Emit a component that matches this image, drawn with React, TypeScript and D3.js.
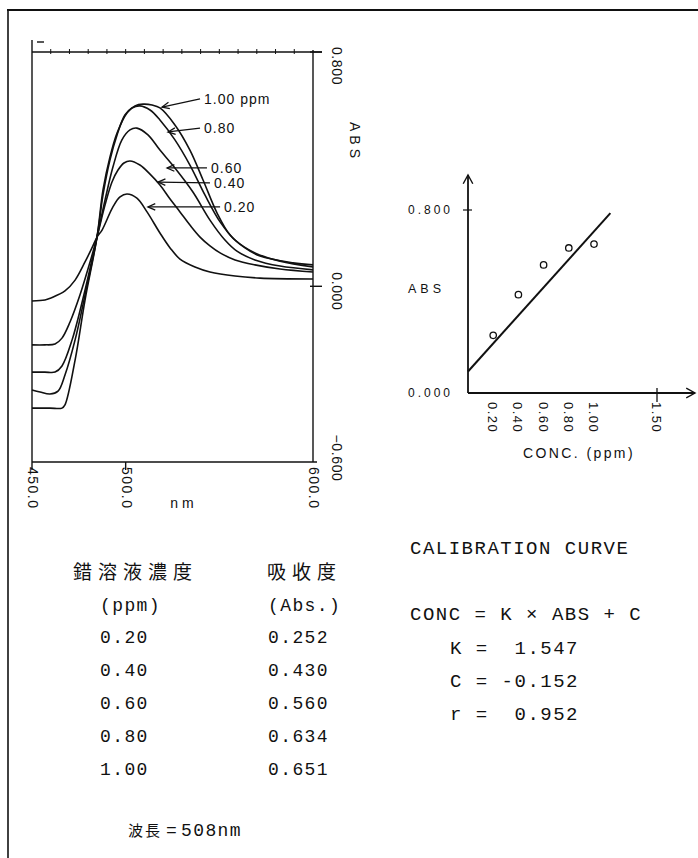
import React from "react";
import * as d3 from "d3";

const W = 698;
const H = 858;

// Difference spectra, [wavelength (nm), absorbance]
const spec020: [number, number][] = [[450,-0.050],[456.9,-0.047],[460.1,-0.040],[467.6,-0.016],[473.0,0.021],[478.3,0.083],[482.0,0.131],[484.7,0.168],[487.4,0.192],[493.2,0.271],[497.0,0.305],[500.7,0.315],[506.0,0.301],[511.4,0.254],[518.3,0.182],[523.7,0.131],[529.0,0.093],[537.0,0.066],[545.0,0.049],[558.4,0.035],[571.7,0.028],[600,0.025]];
const spec040: [number, number][] = [[450,-0.200],[456.9,-0.200],[462.3,-0.197],[466.0,-0.177],[470.3,-0.122],[475.6,-0.030],[481.0,0.083],[484.7,0.168],[489.0,0.278],[492.7,0.356],[495.9,0.397],[499.1,0.421],[502.3,0.428],[507.6,0.414],[513.0,0.383],[518.3,0.346],[523.7,0.298],[529.0,0.254],[534.3,0.209],[539.7,0.168],[545.0,0.138],[550.4,0.114],[558.4,0.090],[569.0,0.073],[582.4,0.059],[600,0.049]];
const spec060: [number, number][] = [[450,-0.293],[456.9,-0.293],[462.3,-0.293],[466.0,-0.272],[471.4,-0.183],[478.3,-0.013],[484.7,0.168],[489.0,0.295],[493.2,0.407],[498.0,0.500],[502.3,0.534],[506.0,0.540],[511.9,0.517],[518.3,0.465],[526.3,0.404],[535.9,0.322],[545.0,0.226],[553.0,0.158],[559.4,0.120],[569.0,0.090],[582.4,0.069],[600,0.056]];
const spec080: [number, number][] = [[450,-0.354],[454.3,-0.361],[459.6,-0.368],[463.9,-0.358],[467.6,-0.303],[473.0,-0.183],[478.3,-0.030],[484.7,0.168],[487.9,0.312],[491.6,0.431],[495.4,0.517],[499.6,0.585],[503.4,0.609],[507.6,0.616],[513.0,0.602],[518.3,0.568],[526.3,0.500],[534.3,0.414],[542.3,0.312],[550.4,0.220],[558.4,0.158],[569.0,0.114],[582.4,0.086],[600,0.066]];
const spec100: [number, number][] = [[450,-0.416],[459.6,-0.416],[466.0,-0.416],[467.6,-0.405],[473.0,-0.252],[478.3,-0.047],[484.7,0.168],[487.9,0.329],[491.6,0.441],[495.4,0.523],[500.7,0.592],[505.0,0.616],[509.3,0.622],[514.1,0.619],[518.3,0.609],[526.3,0.551],[534.3,0.465],[541.3,0.363],[548.8,0.250],[555.7,0.175],[563.7,0.131],[571.7,0.103],[589.3,0.080],[600,0.073]];
const spectra = [spec100, spec080, spec060, spec040, spec020];

// Spectrum annotations
const labelText = ["1.00 ppm", "0.80", "0.60", "0.40", "0.20"];
const arrowTipWl = [519.4, 522.6, 522.1, 517.3, 511.9];
const arrowTipAbs = [0.612, 0.527, 0.404, 0.356, 0.271];
const arrowTailWl = [539.7, 539.7, 543.4, 545.0, 550.4];
const arrowTailAbs = [0.640, 0.540, 0.404, 0.353, 0.271];

// Spectrum axes
const wlTicks = [450, 500, 600];
const wlTickLabels = ["450.0", "500.0", "600.0"];
const absTicks = [0.8, 0.0, -0.6];
const absTickLabels = ["0.800", "0.000", "\u22120.600"];
const wlMinorTicks = [460, 470, 480, 490, 500, 510, 520, 530, 540, 550, 560, 570, 580, 590];

// Calibration data
const conc = [0.20, 0.40, 0.60, 0.80, 1.00];
const concLabels = ["0.20", "0.40", "0.60", "0.80", "1.00"];
const absorb = [0.252, 0.430, 0.560, 0.634, 0.651];
const absorbLabels = ["0.252", "0.430", "0.560", "0.634", "0.651"];
const calTickConc = [0.2, 0.4, 0.6, 0.8, 1.0, 1.5];
const calTickConcLabels = ["0.20", "0.40", "0.60", "0.80", "1.00", "1.50"];
const calTickAbs = [0.8, 0.0];
const calTickAbsLabels = ["0.800", "0.000"];
const fitConc = [0, 1.13];
const fitAbs = [0.094, 0.786];
const fitLines = ["CONC = K \u00d7 ABS + C", "K =  1.547", "C = -0.152", "r =  0.952"];

const SANS = "'Liberation Sans', Arial, sans-serif";
const MONO = "'Liberation Mono', 'DejaVu Sans Mono', monospace";
const CJK = "'Noto Sans CJK JP', sans-serif";
const INK = "#111";

function arrowHead(tx: number, ty: number, fx: number, fy: number, len = 8, ang = 0.42) {
  const a = Math.atan2(fy - ty, fx - tx);
  return `M${tx + len * Math.cos(a + ang)},${ty + len * Math.sin(a + ang)}L${tx},${ty}L${tx + len * Math.cos(a - ang)},${ty + len * Math.sin(a - ang)}`;
}

export default function App() {
  const x = d3.scaleLinear().domain([450, 600]).range([32, 313]);
  const y = d3.scaleLinear().domain([-0.6, 0.8]).range([462, 52]);
  const line = d3
    .line<[number, number]>()
    .x((d) => x(d[0]))
    .y((d) => y(d[1]))
    .curve(d3.curveCatmullRom.alpha(0.5));

  const cx = d3.scaleLinear().domain([0, 1.5]).range([468, 657]);
  const cy = d3.scaleLinear().domain([0, 0.8]).range([393, 210]);

  const [xl, xr] = x.range();
  const [yb, yt] = y.range();
  const cx0 = cx(0);
  const cy0 = cy(0);

  return (
    <svg
      width={W}
      height={H}
      viewBox={`0 0 ${W} ${H}`}
      style={{ position: "absolute", left: 0, top: 0, background: "#fff" }}
    >
      <rect x={0} y={0} width={W} height={H} fill="#fff" />
      {/* outer frame */}
      <line x1={7} y1={10} x2={W} y2={10} stroke={INK} strokeWidth={2} />
      <line x1={8} y1={10} x2={8} y2={H} stroke={INK} strokeWidth={1.6} />

      {/* ---------- spectrum chart ---------- */}
      <g stroke={INK} fill="none" strokeWidth={1.4}>
        <line x1={xl} y1={40} x2={xl} y2={yb} />
        <line x1={xr} y1={yt - 2} x2={xr} y2={yb} />
        <line x1={xl} y1={yt} x2={xr + 9} y2={yt} />
        <line x1={xl} y1={yb} x2={xr + 4} y2={yb} />
        <line x1={xl + 5} y1={42} x2={xl + 12} y2={42} />
        {wlMinorTicks.map((t) => (
          <line key={t} x1={x(t)} y1={yt - 3} x2={x(t)} y2={yt + 2} strokeWidth={1} />
        ))}
        {wlTicks.slice(0, 2).map((t) => (
          <line key={t} x1={x(t)} y1={yb} x2={x(t)} y2={yb + 8} />
        ))}
        {absTicks.slice(0, 2).map((t) => (
          <line key={t} x1={xr - 3} y1={y(t)} x2={xr + 9} y2={y(t)} />
        ))}
        {spectra.map((s, i) => (
          <path key={i} d={line(s) || ""} strokeWidth={1.6} />
        ))}
        {labelText.map((_, i) => {
          const tx = x(arrowTipWl[i]);
          const ty = y(arrowTipAbs[i]);
          const fx = x(arrowTailWl[i]);
          const fy = y(arrowTailAbs[i]);
          return (
            <g key={i} strokeWidth={1.3}>
              <line x1={fx} y1={fy} x2={tx} y2={ty} />
              <path d={arrowHead(tx, ty, fx, fy)} />
            </g>
          );
        })}
      </g>
      <g fontFamily={SANS} fontSize={14} fill={INK}>
        {labelText.map((t, i) => (
          <text
            key={t}
            x={x(arrowTailWl[i]) + 4}
            y={y(arrowTailAbs[i]) + 5}
            letterSpacing={1}
          >
            {t}
          </text>
        ))}
        {absTickLabels.map((t, i) => (
          <text
            key={t}
            transform={`translate(${xr + 19},${y(absTicks[i]) + 14 - i * 9}) rotate(90)`}
            textAnchor="middle"
            letterSpacing={0.6}
          >
            {t}
          </text>
        ))}
        <text transform={`translate(350,122) rotate(90)`} letterSpacing={4}>
          ABS
        </text>
        {wlTickLabels.map((t, i) => (
          <text
            key={t}
            transform={`translate(${x(wlTicks[i]) - 4},${yb + 5}) rotate(90)`}
            letterSpacing={1.5}
          >
            {t}
          </text>
        ))}
        <text x={184} y={508} textAnchor="middle" letterSpacing={4}>
          nm
        </text>
      </g>

      {/* ---------- calibration chart ---------- */}
      <g stroke={INK} fill="none" strokeWidth={1.8}>
        <line x1={cx0} y1={cy0} x2={cx0} y2={175} />
        <path d={arrowHead(cx0, 175, cx0, cy0, 10, 0.5)} strokeWidth={1.4} />
        <line x1={cx0} y1={cy0} x2={695} y2={cy0} />
        <path d={arrowHead(695, cy0, cx0, cy0, 10, 0.5)} strokeWidth={1.4} />
        <line x1={cx0 - 5} y1={cy(0.8)} x2={cx0 + 4} y2={cy(0.8)} strokeWidth={1.2} />
        <line x1={cx(1.5)} y1={cy0 - 5} x2={cx(1.5)} y2={cy0 + 9} strokeWidth={1.3} />
        <line
          x1={cx(fitConc[0])}
          y1={cy(fitAbs[0])}
          x2={cx(fitConc[1])}
          y2={cy(fitAbs[1])}
          strokeWidth={2}
        />
        {conc.map((c, i) => (
          <circle key={c} cx={cx(c)} cy={cy(absorb[i])} r={3.2} strokeWidth={1.3} />
        ))}
      </g>
      <g fontFamily={SANS} fill={INK}>
        {calTickAbsLabels.map((t, i) => (
          <text
            key={t}
            x={453}
            y={cy(calTickAbs[i]) + 4}
            textAnchor="end"
            fontSize={12}
            letterSpacing={3}
          >
            {t}
          </text>
        ))}
        <text x={408} y={293} fontSize={12.5} letterSpacing={4}>
          ABS
        </text>
        {calTickConcLabels.map((t, i) => (
          <text
            key={t}
            transform={`translate(${cx(calTickConc[i]) - 5},${cy0 + 9}) rotate(90)`}
            fontSize={13}
            letterSpacing={1.5}
          >
            {t}
          </text>
        ))}
        <text x={523} y={458} fontSize={14} letterSpacing={2.4}>
          CONC. (ppm)
        </text>
      </g>

      {/* ---------- data table ---------- */}
      <g fill={INK}>
        <text x={73} y={579} fontFamily={CJK} fontSize={19} letterSpacing={6}>
          錯溶液濃度
        </text>
        <text x={267} y={579} fontFamily={CJK} fontSize={19} letterSpacing={6}>
          吸收度
        </text>
        <g fontFamily={MONO} fontSize={18} letterSpacing={1.4}>
          <text x={100} y={611}>(ppm)</text>
          <text x={268} y={611}>(Abs.)</text>
          {concLabels.map((t, i) => (
            <text key={t} x={100} y={643 + i * 33}>
              {t}
            </text>
          ))}
          {absorbLabels.map((t, i) => (
            <text key={t} x={268} y={643 + i * 33}>
              {t}
            </text>
          ))}
        </g>
        <text x={128} y={836} fontFamily={CJK} fontSize={15} letterSpacing={2}>
          波長
        </text>
        <text x={166} y={836} fontFamily={MONO} fontSize={18}>
          =
        </text>
        <text x={181} y={836} fontFamily={MONO} fontSize={18} letterSpacing={1.4}>
          508nm
        </text>
      </g>

      {/* ---------- calibration text ---------- */}
      <g fill={INK} fontFamily={MONO} fontSize={19} letterSpacing={1.5}>
        <text x={410} y={554}>CALIBRATION CURVE</text>
        <text x={410} y={620} xmlSpace="preserve">{fitLines[0]}</text>
        {fitLines.slice(1).map((t, i) => (
          <text key={t} x={450} y={654 + i * 33} xmlSpace="preserve">
            {t}
          </text>
        ))}
      </g>
    </svg>
  );
}
